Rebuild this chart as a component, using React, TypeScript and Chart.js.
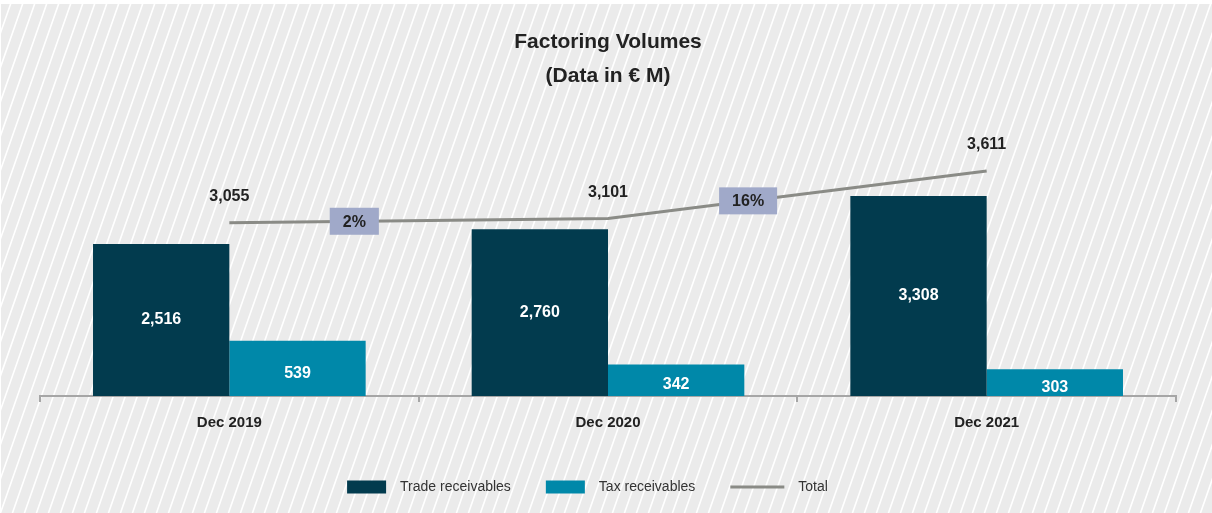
import React, { useEffect, useRef } from "react";
import { Chart, registerables } from "chart.js";

Chart.register(...registerables);

const categories = ["Dec 2019", "Dec 2020", "Dec 2021"];
const tradeReceivables = [2516, 2760, 3308];
const taxReceivables = [539, 342, 303];
const totals = [3055, 3101, 3611];
const growthLabels = ["2%", "16%"];
const titleLines = ["Factoring Volumes", "(Data in € M)"];
const seriesNames = ["Trade receivables", "Tax receivables", "Total"];

const FONT = "'Liberation Sans', Arial, sans-serif";
const TEXT = "#222222";
const TRADE = "#023b4e";
const TAX = "#0088a9";
const LINE = "#8a8b86";
const BOX = "#a0a9c9";

const fmt = (v: number) => v.toLocaleString("en-US");

const backgroundPlugin = {
  id: "stripedBg",
  beforeDraw(chart: any) {
    const { ctx, width, height } = chart;
    ctx.save();
    ctx.fillStyle = "#ffffff";
    ctx.fillRect(0, 0, width, height);
    ctx.beginPath();
    ctx.rect(1, 4, width - 1, height - 4);
    ctx.fillStyle = "#ebebeb";
    ctx.fill();
    ctx.clip();
    ctx.strokeStyle = "#ffffff";
    ctx.lineWidth = 1.6;
    const slope = 0.35;
    const span = height * slope;
    for (let x = -span; x < width + span; x += 12) {
      ctx.beginPath();
      ctx.moveTo(x, height);
      ctx.lineTo(x + span, 0);
      ctx.stroke();
    }
    ctx.restore();
  },
};

const labelsPlugin = {
  id: "valueLabels",
  afterDatasetsDraw(chart: any) {
    const { ctx } = chart;
    ctx.save();
    ctx.textAlign = "center";
    ctx.textBaseline = "middle";
    ctx.font = `bold 16px ${FONT}`;
    [0, 1].forEach((di) => {
      const meta = chart.getDatasetMeta(di);
      const data = chart.data.datasets[di].data as number[];
      meta.data.forEach((bar: any, i: number) => {
        ctx.fillStyle = "#ffffff";
        ctx.fillText(fmt(data[i]), bar.x, (bar.y + bar.base) / 2);
      });
    });
    const lineMeta = chart.getDatasetMeta(2);
    const pts = lineMeta.data;
    pts.forEach((p: any, i: number) => {
      ctx.fillStyle = TEXT;
      ctx.fillText(fmt(totals[i]), p.x, p.y - 26);
    });
    growthLabels.forEach((lab, i) => {
      const a = pts[i];
      const b = pts[i + 1];
      const t = i === 0 ? 0.33 : 0.37;
      const cx = a.x + (b.x - a.x) * t;
      const cy = a.y + (b.y - a.y) * t;
      const w = ctx.measureText(lab).width + 26;
      const h = 27;
      ctx.fillStyle = BOX;
      ctx.fillRect(cx - w / 2, cy - h / 2, w, h);
      ctx.fillStyle = TEXT;
      ctx.fillText(lab, cx, cy + 1);
    });
    ctx.restore();
  },
};

const legendPlugin = {
  id: "customLegend",
  afterDraw(chart: any) {
    const { ctx, chartArea } = chart;
    ctx.save();
    ctx.font = `14px ${FONT}`;
    ctx.textBaseline = "middle";
    ctx.textAlign = "left";
    const boxW = 39;
    const gap = 14;
    const itemGap = 35;
    const widths = seriesNames.map((n) => boxW + gap + ctx.measureText(n).width);
    const total = widths.reduce((s, w) => s + w, 0) + itemGap * (widths.length - 1);
    let x = (chartArea.left + chartArea.right) / 2 - 28 - total / 2;
    const y = 487;
    chart.data.datasets.forEach((ds: any, i: number) => {
      if (ds.type === "line") {
        ctx.strokeStyle = ds.borderColor;
        ctx.lineWidth = 3;
        ctx.beginPath();
        ctx.moveTo(x, y);
        ctx.lineTo(x + boxW + 15, y);
        ctx.stroke();
        ctx.fillStyle = "#333333";
        ctx.fillText(ds.label, x + boxW + 15 + gap, y);
      } else {
        ctx.fillStyle = ds.backgroundColor;
        ctx.fillRect(x, y - 6.5, boxW, 13);
        ctx.fillStyle = "#333333";
        ctx.fillText(ds.label, x + boxW + gap, y);
      }
      x += widths[i] + itemGap;
    });
    ctx.restore();
  },
};

export default function App() {
  const ref = useRef<HTMLCanvasElement | null>(null);
  useEffect(() => {
    document.body.style.margin = "0";
    const canvas = ref.current!;
    const chart = new Chart(canvas, {
      type: "bar",
      data: {
        labels: categories,
        datasets: [
          {
            type: "bar",
            label: seriesNames[0],
            data: tradeReceivables,
            backgroundColor: TRADE,
            yAxisID: "y",
            order: 2,
          },
          {
            type: "bar",
            label: seriesNames[1],
            data: taxReceivables,
            backgroundColor: TAX,
            yAxisID: "yTax",
            order: 2,
          },
          {
            type: "line",
            label: seriesNames[2],
            data: totals,
            borderColor: LINE,
            backgroundColor: LINE,
            borderWidth: 3,
            pointRadius: 0,
            tension: 0,
            yAxisID: "yTotal",
            order: 1,
          } as any,
        ],
      },
      options: {
        responsive: false,
        animation: false,
        devicePixelRatio: 1,
        layout: { padding: { left: 40, right: 36, top: 0, bottom: 69 } },
        datasets: {
          bar: { categoryPercentage: 0.72, barPercentage: 1.0 },
        },
        plugins: {
          legend: { display: false },
          tooltip: { enabled: false },
          title: {
            display: true,
            text: titleLines,
            color: TEXT,
            font: { family: FONT, size: 21, weight: "bold", lineHeight: 34 / 21 },
            padding: { top: 25, bottom: 28 },
          },
        },
        scales: {
          x: {
            offset: true,
            grid: {
              display: true,
              drawOnChartArea: false,
              drawTicks: true,
              tickLength: 6,
              offset: true,
              color: "#a6a6a6",
              lineWidth: 2,
            },
            border: { display: true, color: "#a6a6a6", width: 2 },
            ticks: {
              color: TEXT,
              padding: 12,
              font: { family: FONT, size: 15, weight: "bold" },
            },
          },
          y: { display: false, min: 0, max: 4551 },
          yTax: { display: false, min: 80, max: 2369 },
          yTotal: { display: false, min: 1190, max: 4149 },
        },
      },
      plugins: [backgroundPlugin, labelsPlugin, legendPlugin],
    });
    return () => chart.destroy();
  }, []);
  return <canvas ref={ref} width={1212} height={513} style={{ display: "block" }} />;
}
